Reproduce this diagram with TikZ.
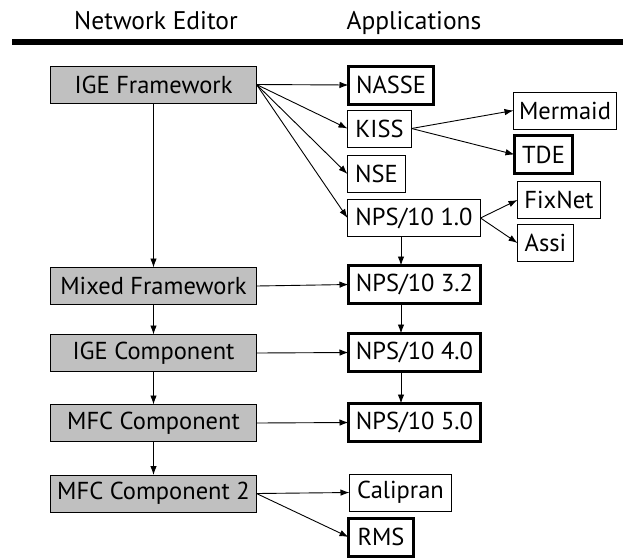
\documentclass[tikz,border=0pt]{standalone}
\usepackage{fontspec}
\setmainfont{PT Sans}
\usetikzlibrary{arrows.meta}
\definecolor{boxgray}{HTML}{C0C0C0}
\begin{document}
\begin{tikzpicture}[x=1pt,y=-1pt,
  every node/.style={font=\fontsize{24.5}{28}\selectfont, inner sep=0pt, outer sep=0pt},
  header/.style={font=\fontsize{25.5}{29}\selectfont, anchor=base},
  editor/.style={draw=black, line width=1pt, fill=boxgray, minimum width=206pt, minimum height=37pt},
  app/.style={draw=black, line width=1pt, fill=white, minimum height=37pt},
  appthick/.style={draw=black, line width=3pt, fill=white, minimum height=38pt},
  arr/.style={draw=black, line width=0.9pt, -{Latex[length=9pt,width=6.5pt]}}]
\useasboundingbox (0,0) rectangle (623,558);
% header
\node[header] (hne) at (156,29) {Network Editor};
\node[header] (happ) at (414,29) {Applications};
\coordinate (rl) at (12,42);
\coordinate (rr) at (623,42);
\draw[line width=6pt] (rl) -- (rr);
% editor column
\node[editor] (ige)  at (153.5,84.5) {IGE Framework};
\node[editor] (mix)  at (153.5,286) {Mixed Framework};
\node[editor] (igec) at (153.5,353) {IGE Component};
\node[editor] (mfc)  at (153.5,423) {MFC Component};
\node[editor] (mfc2) at (153.5,493.5) {MFC Component 2};
% application column
\node[appthick, minimum width=85pt] (nasse) at (391,85) {NASSE};
\node[app, minimum width=64pt] (kiss) at (379.5,128.5) {KISS};
\node[app, minimum width=58pt] (nse) at (376.5,174) {NSE};
\node[app, minimum width=133pt] (nps1) at (414,218) {NPS/10 1.0};
\node[appthick, minimum width=132pt] (nps32) at (414.5,284.5) {NPS/10 3.2};
\node[appthick, minimum width=132pt] (nps40) at (414.5,352.5) {NPS/10 4.0};
\node[appthick, minimum width=132pt] (nps50) at (414.5,422.5) {NPS/10 5.0};
\node[app, minimum width=102pt] (cal) at (400.5,492.5) {Calipran};
\node[appthick, minimum width=65pt] (rms) at (381,537) {RMS};
% third column
\node[app, minimum width=103pt] (mer) at (565,110.5) {Mermaid};
\node[appthick, minimum width=58pt] (tde) at (543.5,154.5) {TDE};
\node[app, minimum width=83pt] (fix) at (559,200) {FixNet};
\node[app, minimum width=56pt] (assi) at (545.5,243) {Assi};
% connectors
\coordinate (colx) at (401,0);
\draw[arr] (ige.east) -- (nasse.west);
\draw[arr] (ige.east) -- (kiss.west);
\draw[arr] (ige.east) -- (nse.west);
\draw[arr] (ige.east) -- (nps1.west);
\draw[arr] (kiss.east) -- (mer.west);
\draw[arr] (kiss.east) -- (tde.west);
\draw[arr] (nps1.east) -- (fix.west);
\draw[arr] (nps1.east) -- (assi.west);
\draw[arr] (ige.south) -- (mix.north);
\draw[arr] (mix.south) -- (igec.north);
\draw[arr] (igec.south) -- (mfc.north);
\draw[arr] (mfc.south) -- (mfc2.north);
\draw[arr] (mix.east) -- (nps32.west);
\draw[arr] (igec.east) -- (nps40.west);
\draw[arr] (mfc.east) -- (nps50.west);
\draw[arr] (mfc2.east) -- (cal.west);
\draw[arr] (mfc2.east) -- (rms.west);
\draw[arr] (nps1.south -| colx) -- (nps32.north -| colx);
\draw[arr] (nps32.south -| colx) -- (nps40.north -| colx);
\draw[arr] (nps40.south -| colx) -- (nps50.north -| colx);
\end{tikzpicture}
\end{document}
